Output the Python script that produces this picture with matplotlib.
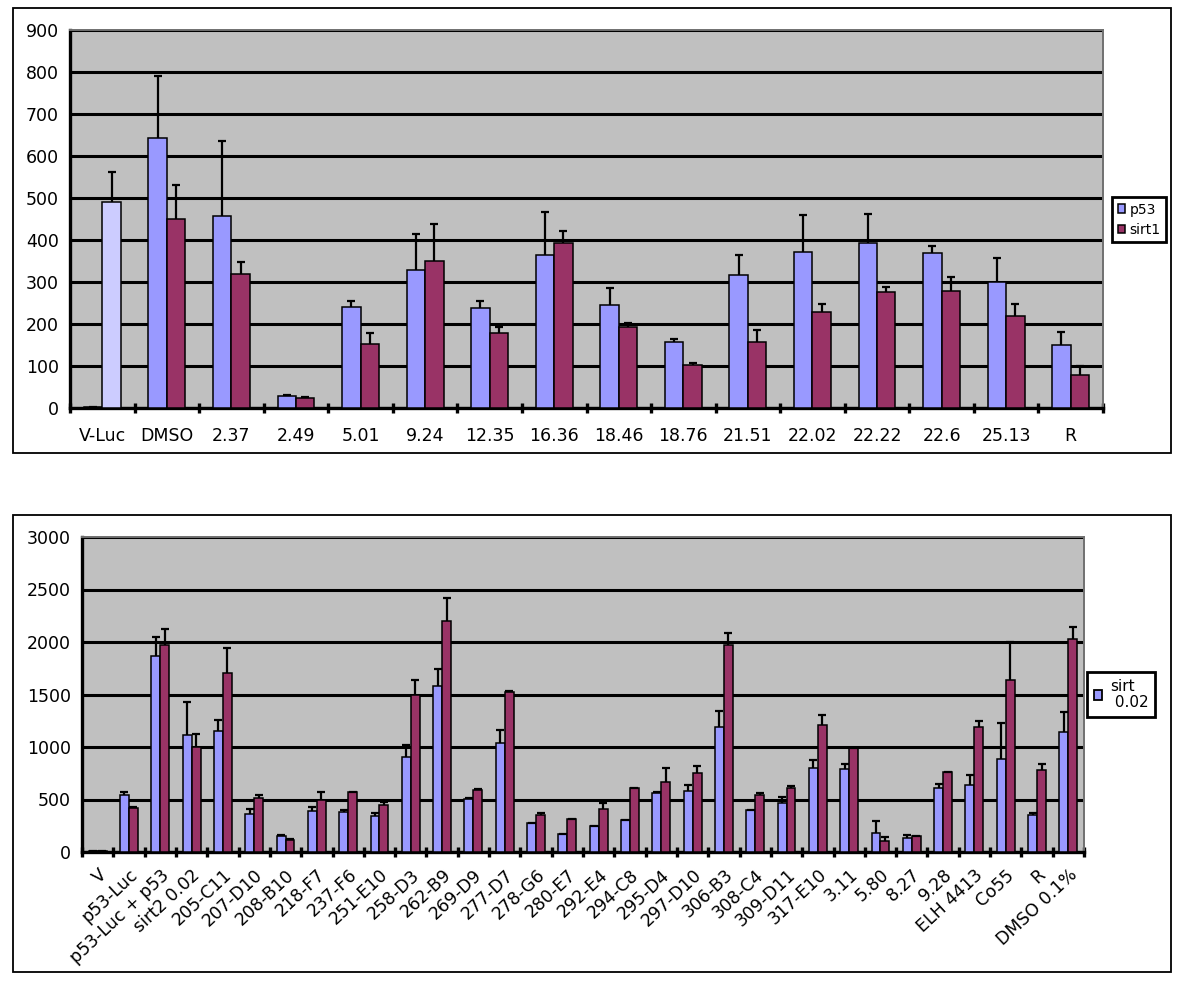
import numpy as np
import matplotlib
matplotlib.use("Agg")
import matplotlib.pyplot as plt
from matplotlib.patches import Rectangle, Patch

plt.rcParams['font.family'] = ['DejaVu Sans']

# ---------------- data: top chart ----------------
top_categories = ["V-Luc", "DMSO", "2.37", "2.49", "5.01", "9.24", "12.35", "16.36",
                  "18.46", "18.76", "21.51", "22.02", "22.22", "22.6", "25.13", "R"]
top_p53 = [3, 642, 458, 28, 240, 328, 238, 364, 246, 156, 317, 371, 394, 369, 301, 151]
top_p53_err = [0, 149, 178, 2, 14, 87, 17, 102, 39, 9, 48, 89, 69, 17, 55, 31]
top_sirt1 = [490, 451, 320, 24, 153, 351, 179, 392, 192, 103, 156, 228, 276, 279, 218, 78]
top_sirt1_err = [72, 79, 28, 1, 25, 88, 13, 30, 10, 3, 30, 20, 13, 34, 30, 21]
top_series = ["p53", "sirt1"]
top_yticks = [0, 100, 200, 300, 400, 500, 600, 700, 800, 900]

# ---------------- data: bottom chart ----------------
bot_categories = ["V", "p53-Luc", "p53-Luc + p53", "sirt2 0.02", "205-C11", "207-D10",
                  "208-B10", "218-F7", "237-F6", "251-E10", "258-D3", "262-B9", "269-D9",
                  "277-D7", "278-G6", "280-E7", "292-E4", "294-C8", "295-D4", "297-D10",
                  "306-B3", "308-C4", "309-D11", "317-E10", "3.11", "5.80", "8.27", "9.28",
                  "ELH 4413", "Co55", "R", "DMSO 0.1%"]
bot_a = [5, 546, 1863, 1111, 1156, 360, 151, 392, 379, 344, 906, 1580, 501, 1034, 276, 167,
         247, 302, 565, 585, 1195, 398, 466, 800, 787, 177, 135, 607, 642, 890, 350, 1147]
bot_a_err = [0, 29, 180, 315, 103, 54, 9, 32, 22, 29, 112, 161, 9, 129, 4, 5,
             5, 4, 10, 57, 145, 4, 61, 80, 55, 119, 26, 42, 87, 337, 26, 186]
bot_b = [5, 418, 1976, 996, 1706, 517, 119, 495, 569, 443, 1497, 2197, 591, 1526, 353, 312,
         405, 607, 665, 752, 1976, 543, 610, 1205, 986, 103, 151, 761, 1195, 1638, 777, 2030]
bot_b_err = [0, 7, 144, 128, 241, 29, 6, 80, 6, 32, 138, 219, 5, 4, 20, 4,
             58, 3, 135, 64, 112, 22, 23, 96, 4, 38, 2, 3, 55, 360, 58, 109]
bot_legend_label = "sirt\n 0.02"
bot_yticks = [0, 500, 1000, 1500, 2000, 2500, 3000]

# ---------------- style ----------------
BLUE = "#9999FF"
RED = "#993366"
LAVENDER = "#CCCCFF"
GRAY = "#C0C0C0"

W, H = 1191, 986
fig = plt.figure(figsize=(W / 100, H / 100), dpi=100)


def fx(px):
    return px / W


def fy(py):
    return 1 - py / H


def frame(x0, y0, x1, y1):
    fig.patches.append(Rectangle((fx(x0), fy(y1)), fx(x1) - fx(x0), fy(y0) - fy(y1),
                                 transform=fig.transFigure, fill=False,
                                 edgecolor="black", linewidth=1.3))


def style_axes(ax, n, ymax, yticks, ypad):
    ax.set_facecolor(GRAY)
    ax.set_xlim(-0.5, n - 0.5)
    ax.set_ylim(0, ymax)
    ax.set_yticks(yticks)
    ax.yaxis.grid(True, color="black", linewidth=2.2)
    ax.set_axisbelow(True)
    for s in ["left", "bottom"]:
        ax.spines[s].set_color("black")
        ax.spines[s].set_linewidth(2.4)
    for s in ["top", "right"]:
        ax.spines[s].set_color("#707070")
        ax.spines[s].set_linewidth(1.4)
    ax.tick_params(axis="y", length=0, pad=ypad, labelsize=12.5)
    ax.set_xticks(np.arange(n))
    ax.set_xticks(np.arange(n + 1) - 0.5, minor=True)
    ax.tick_params(axis="x", which="minor", direction="inout", length=7, width=2.4,
                   color="black")


def draw_bars(ax, a, a_err, b, b_err, w, capsize):
    x = np.arange(len(a))
    ba = ax.bar(x - w / 2, a, w, color=BLUE, edgecolor="black", linewidth=1.1, zorder=3)
    bb = ax.bar(x + w / 2, b, w, color=RED, edgecolor="black", linewidth=1.1, zorder=3)
    for xs, vals, errs in [(x - w / 2, a, a_err), (x + w / 2, b, b_err)]:
        _, caps, _ = ax.errorbar(xs, vals, yerr=[np.zeros(len(vals)), errs], fmt="none",
                                 ecolor="black", elinewidth=1.6, capsize=capsize,
                                 capthick=1.6, zorder=4)
        caps[0].set_visible(False)
    return ba, bb


# ---------------- top chart ----------------
frame(13, 8, 1171, 453)
ax1 = fig.add_axes([fx(70), fy(408), fx(1103) - fx(70), fy(30) - fy(408)])
n1 = len(top_categories)
style_axes(ax1, n1, 900, top_yticks, 8)
w1 = 1 / 3.5
b1a, b1b = draw_bars(ax1, top_p53, top_p53_err, top_sirt1, top_sirt1_err, w1, 3.2)
b1b[0].set_facecolor(LAVENDER)
ax1.set_xticklabels(top_categories, fontsize=12.5)
ax1.tick_params(axis="x", which="major", length=0, pad=14)

handles1 = [Patch(facecolor=BLUE, edgecolor="black", linewidth=1.1),
            Patch(facecolor=RED, edgecolor="black", linewidth=1.1)]
leg1 = fig.legend(handles1, top_series, loc="upper left",
                  bbox_to_anchor=(fx(1112), fy(197)), borderaxespad=0,
                  fontsize=10, handlelength=0.55, handleheight=0.55,
                  handletextpad=0.3, labelspacing=0.45, borderpad=0.4,
                  fancybox=False, framealpha=1, edgecolor="black")
leg1.get_frame().set_linewidth(2)

# ---------------- bottom chart ----------------
frame(13, 515, 1171, 972)
ax2 = fig.add_axes([fx(82), fy(852), fx(1084) - fx(82), fy(537) - fy(852)])
n2 = len(bot_categories)
style_axes(ax2, n2, 3000, bot_yticks, 8)
w2 = 1 / 3.5
draw_bars(ax2, bot_a, bot_a_err, bot_b, bot_b_err, w2, 2.9)
ax2.set_xticklabels(bot_categories, fontsize=12.5, rotation=43, ha="right",
                    va="top", rotation_mode="anchor")
ax2.tick_params(axis="x", which="major", length=0, pad=10)

handles2 = [Patch(facecolor=BLUE, edgecolor="black", linewidth=1.3)]
leg2 = fig.legend(handles2, [bot_legend_label], loc="upper left",
                  bbox_to_anchor=(fx(1087), fy(672)), borderaxespad=0,
                  fontsize=11, handlelength=0.55, handleheight=0.55,
                  handletextpad=0.5, borderpad=0.45,
                  fancybox=False, framealpha=1, edgecolor="black")
leg2.get_frame().set_linewidth(2)
for t in leg2.get_texts():
    t.set_linespacing(1.1)

fig.savefig("out.png", dpi=100, facecolor="white")
